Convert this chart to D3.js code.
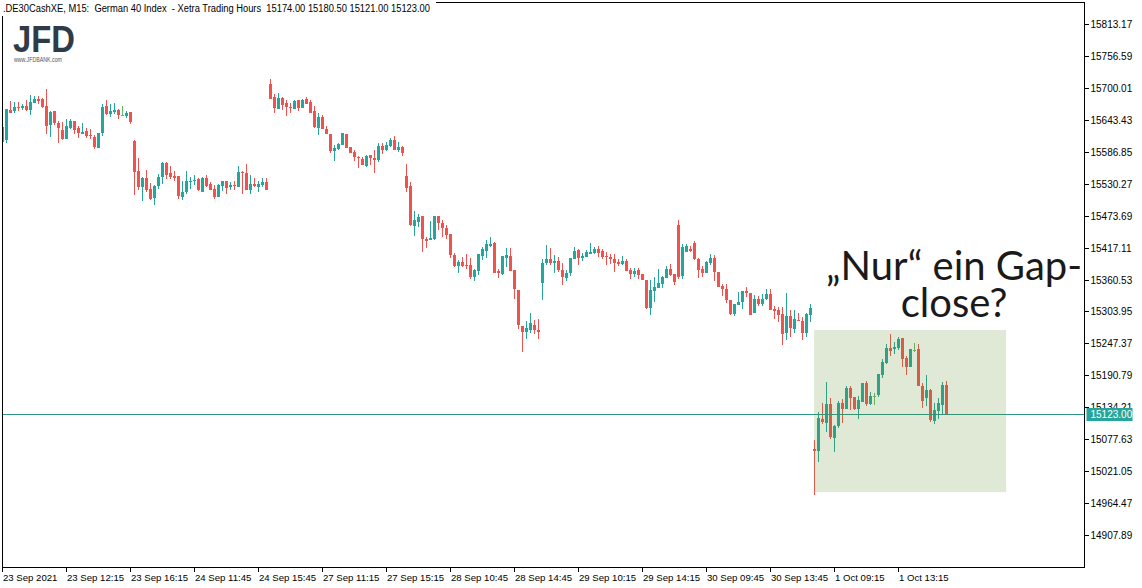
<!DOCTYPE html>
<html>
<head>
<meta charset="utf-8">
<script src="https://cdn.jsdelivr.net/npm/d3@7"></script>
<style>
html, body { margin: 0; padding: 0; background: #fff; }
svg { display: block; font-family: "Liberation Sans", Arial, sans-serif; }
</style>
</head>
<body>
<svg id="chart" width="1142" height="588"></svg>
<script>
// 15 minute bars, 23 Sep 2021 08:15 .. 1 Oct 2021 16:15
const openPrices = [
  15604.7, 15607.7, 15660.8, 15659.6, 15666.2, 15663.9, 15667.4, 15660.8, 15673.8, 15680.3,
  15680.3, 15667.9, 15634.8, 15659.1, 15637.7, 15624.9, 15609.5, 15629.5, 15641.3, 15629.0,
  15618.3, 15623.6, 15616.5, 15613.0, 15593.5, 15620.1, 15667.9, 15654.3, 15657.8, 15660.8,
  15652.0, 15650.7, 15656.8, 15606.4, 15552.8, 15525.0, 15540.4, 15520.9, 15504.9, 15526.2,
  15542.7, 15566.9, 15549.2, 15543.9, 15543.9, 15507.3, 15515.6, 15533.8, 15535.1, 15538.6,
  15515.6, 15540.4, 15529.7, 15520.9, 15506.7, 15526.2, 15535.1, 15525.0, 15528.5, 15525.0,
  15551.5, 15549.2, 15519.1, 15529.7, 15524.4, 15528.0, 15533.3, 15706.9, 15683.9, 15663.1,
  15682.1, 15673.2, 15666.7, 15663.1, 15678.6, 15664.9, 15680.3, 15675.0, 15659.1, 15629.5,
  15649.0, 15627.2, 15618.9, 15588.2, 15592.4, 15599.4, 15618.9, 15594.8, 15586.4, 15577.6,
  15574.0, 15561.6, 15580.6, 15575.8, 15572.3, 15597.1, 15590.0, 15597.1, 15607.7, 15590.6,
  15595.3, 15543.9, 15526.2, 15455.9, 15463.0, 15473.0, 15432.9, 15431.1, 15432.9, 15473.0,
  15461.2, 15452.3, 15441.1, 15403.9, 15384.4, 15391.5, 15386.8, 15386.2, 15364.4, 15376.2,
  15402.7, 15411.6, 15420.5, 15425.2, 15376.2, 15370.3, 15398.6, 15402.2, 15377.3, 15341.9,
  15278.1, 15267.5, 15271.7, 15280.5, 15271.1, 15354.9, 15389.8, 15396.8, 15389.8, 15393.3,
  15377.4, 15363.8, 15372.0, 15396.8, 15412.8, 15398.6, 15401.0, 15405.7, 15407.5, 15414.6,
  15411.0, 15402.2, 15400.4, 15396.8, 15391.5, 15388.0, 15393.3, 15377.4, 15370.3, 15377.4,
  15370.3, 15359.6, 15310.0, 15340.1, 15345.5, 15352.6, 15363.2, 15379.1, 15370.3, 15456.5,
  15366.8, 15410.0, 15414.6, 15425.2, 15396.9, 15379.2, 15372.1, 15389.8, 15398.7, 15373.9,
  15349.1, 15343.7, 15324.2, 15299.5, 15315.4, 15320.7, 15340.2, 15336.7, 15301.2, 15326.0,
  15317.2, 15326.0, 15334.9, 15308.3, 15306.5, 15299.5, 15265.8, 15295.9, 15272.9, 15288.8,
  15287.0, 15265.8, 15297.7, 15060.3, 15057.3, 15113.4, 15106.4, 15140.0, 15079.8, 15101.0,
  15141.8, 15131.2, 15168.4, 15152.4, 15131.2, 15143.6, 15177.2, 15140.0, 15155.1, 15156.0,
  15191.4, 15212.7, 15239.2, 15237.4, 15239.2, 15256.9, 15221.5, 15205.6, 15236.5, 15237.4,
  15171.9, 15150.6, 15164.8, 15109.9, 15127.6, 15138.2, 15174.0
];
const highPrices = [
  15631.9, 15663.1, 15676.8, 15674.5, 15674.5, 15670.9, 15678.6, 15687.4, 15685.1, 15685.1,
  15682.6, 15698.0, 15659.1, 15659.1, 15641.3, 15639.6, 15644.9, 15644.9, 15641.3, 15631.9,
  15637.7, 15629.0, 15627.2, 15616.5, 15620.1, 15672.0, 15678.6, 15671.5, 15673.2, 15662.6,
  15667.9, 15659.1, 15656.8, 15608.2, 15575.8, 15542.1, 15554.5, 15531.5, 15528.0, 15547.4,
  15568.7, 15568.7, 15561.6, 15552.8, 15543.9, 15535.1, 15552.8, 15542.1, 15545.7, 15540.4,
  15542.1, 15545.7, 15533.3, 15528.0, 15529.7, 15535.1, 15535.1, 15533.3, 15535.1, 15561.6,
  15552.8, 15565.2, 15545.7, 15540.4, 15535.1, 15540.4, 15540.4, 15716.3, 15689.2, 15690.9,
  15683.9, 15678.6, 15673.2, 15678.6, 15678.6, 15680.3, 15683.9, 15678.6, 15668.5, 15656.0,
  15652.5, 15633.0, 15618.9, 15598.8, 15602.9, 15620.1, 15618.9, 15594.8, 15590.6, 15579.9,
  15577.6, 15580.6, 15580.6, 15590.6, 15602.9, 15601.9, 15603.7, 15611.9, 15614.8, 15604.3,
  15597.1, 15565.2, 15533.2, 15481.9, 15476.6, 15473.0, 15435.2, 15464.2, 15473.0, 15473.0,
  15465.9, 15457.1, 15441.1, 15408.1, 15395.7, 15400.4, 15405.7, 15398.6, 15379.1, 15405.7,
  15418.1, 15430.5, 15435.8, 15427.0, 15379.1, 15402.2, 15416.3, 15416.3, 15377.3, 15341.9,
  15278.1, 15287.0, 15301.2, 15288.8, 15290.5, 15397.4, 15421.6, 15416.3, 15403.9, 15400.4,
  15389.8, 15377.4, 15398.6, 15417.5, 15414.6, 15407.5, 15412.8, 15425.2, 15418.7, 15419.9,
  15414.6, 15409.2, 15405.7, 15405.7, 15396.8, 15402.2, 15396.8, 15380.9, 15380.9, 15380.9,
  15370.3, 15359.6, 15359.6, 15365.0, 15379.1, 15366.7, 15384.4, 15388.0, 15370.3, 15465.9,
  15423.4, 15424.0, 15419.9, 15428.8, 15398.7, 15384.5, 15393.3, 15405.7, 15404.0, 15373.9,
  15352.6, 15352.6, 15324.2, 15317.2, 15338.4, 15340.2, 15347.3, 15336.7, 15333.1, 15331.3,
  15334.9, 15343.7, 15343.7, 15313.6, 15311.8, 15311.8, 15336.7, 15306.5, 15306.5, 15301.2,
  15294.1, 15301.2, 15317.2, 15076.2, 15125.8, 15141.8, 15179.0, 15150.6, 15102.8, 15145.3,
  15148.9, 15171.9, 15171.9, 15152.4, 15154.2, 15177.2, 15180.8, 15161.3, 15159.5, 15193.2,
  15219.7, 15246.3, 15264.0, 15249.8, 15258.7, 15256.9, 15225.0, 15237.4, 15248.1, 15246.3,
  15177.2, 15191.4, 15166.6, 15141.8, 15150.6, 15179.0, 15180.5
];
const lowPrices = [
  15602.9, 15602.9, 15656.0, 15656.0, 15659.6, 15661.4, 15659.6, 15652.5, 15672.7, 15672.0,
  15663.9, 15618.3, 15613.0, 15634.3, 15602.9, 15607.7, 15609.5, 15627.7, 15618.3, 15611.2,
  15618.3, 15610.7, 15608.9, 15591.7, 15593.5, 15615.3, 15652.5, 15647.9, 15653.7, 15645.5,
  15650.7, 15647.2, 15636.6, 15510.3, 15519.1, 15499.6, 15516.1, 15501.9, 15492.5, 15520.9,
  15529.7, 15538.6, 15538.1, 15535.1, 15503.2, 15501.9, 15512.0, 15520.9, 15528.0, 15516.8,
  15515.6, 15524.4, 15519.1, 15503.2, 15506.7, 15517.4, 15512.0, 15519.1, 15519.1, 15525.0,
  15512.0, 15519.1, 15512.0, 15525.0, 15515.6, 15524.4, 15519.1, 15680.9, 15656.0, 15663.1,
  15661.4, 15650.7, 15656.0, 15663.1, 15659.6, 15664.9, 15671.5, 15656.0, 15629.5, 15617.1,
  15626.6, 15618.9, 15585.2, 15571.0, 15590.6, 15599.4, 15593.0, 15585.2, 15571.0, 15558.6,
  15562.9, 15560.4, 15563.9, 15549.8, 15568.7, 15583.4, 15588.7, 15595.8, 15590.6, 15586.4,
  15579.9, 15515.5, 15455.3, 15438.2, 15454.1, 15409.8, 15416.9, 15431.1, 15431.1, 15448.2,
  15436.4, 15432.9, 15398.6, 15383.3, 15372.6, 15383.3, 15379.1, 15361.4, 15358.5, 15369.1,
  15395.7, 15399.2, 15418.7, 15372.6, 15363.8, 15369.1, 15383.3, 15376.2, 15326.6, 15273.4,
  15232.7, 15255.7, 15266.3, 15264.6, 15255.7, 15324.8, 15386.2, 15386.2, 15372.0, 15373.8,
  15351.4, 15358.5, 15367.3, 15396.8, 15386.2, 15393.3, 15401.0, 15405.7, 15405.7, 15400.4,
  15396.8, 15386.2, 15387.4, 15373.8, 15384.4, 15386.2, 15375.6, 15362.0, 15365.0, 15362.0,
  15359.6, 15308.3, 15297.6, 15320.7, 15345.5, 15345.5, 15363.2, 15366.7, 15350.8, 15361.5,
  15361.5, 15409.3, 15409.3, 15395.1, 15363.2, 15365.0, 15372.1, 15386.3, 15357.9, 15347.3,
  15331.3, 15318.9, 15297.7, 15295.9, 15315.4, 15308.3, 15329.6, 15297.7, 15301.2, 15313.6,
  15313.6, 15324.2, 15306.5, 15290.6, 15285.3, 15244.5, 15253.4, 15258.7, 15265.8, 15287.0,
  15253.4, 15258.7, 15285.3, 14979.3, 15037.8, 15104.6, 15090.4, 15078.0, 15055.0, 15097.5,
  15106.4, 15131.2, 15129.4, 15129.4, 15113.4, 15143.6, 15136.5, 15138.2, 15138.2, 15152.4,
  15186.1, 15210.9, 15225.0, 15228.6, 15235.7, 15205.6, 15191.4, 15205.6, 15232.1, 15171.9,
  15132.9, 15136.5, 15108.1, 15104.6, 15113.4, 15120.5, 15121.0
];
const closePrices = [
  15631.3, 15662.1, 15656.0, 15666.2, 15664.4, 15667.9, 15660.8, 15675.0, 15680.3, 15677.3,
  15666.7, 15633.0, 15657.8, 15638.3, 15629.5, 15609.5, 15632.5, 15641.3, 15625.4, 15620.6,
  15621.9, 15614.8, 15615.3, 15595.3, 15620.1, 15666.2, 15654.3, 15658.5, 15660.8, 15651.4,
  15652.0, 15655.5, 15640.1, 15551.5, 15525.0, 15540.4, 15519.1, 15503.2, 15526.2, 15542.1,
  15566.9, 15545.7, 15542.1, 15540.9, 15509.0, 15515.6, 15535.1, 15535.1, 15536.8, 15519.1,
  15540.9, 15526.2, 15519.7, 15506.7, 15528.0, 15535.1, 15522.7, 15528.0, 15527.4, 15551.0,
  15549.5, 15519.1, 15529.7, 15526.7, 15529.7, 15533.3, 15519.1, 15680.9, 15664.9, 15682.1,
  15670.2, 15666.7, 15665.6, 15676.8, 15664.9, 15678.6, 15672.0, 15656.0, 15631.3, 15649.0,
  15627.7, 15618.9, 15588.2, 15593.5, 15600.6, 15620.1, 15594.1, 15585.2, 15577.0, 15575.8,
  15563.9, 15578.8, 15575.8, 15572.3, 15597.1, 15590.0, 15598.8, 15607.7, 15590.6, 15595.3,
  15585.2, 15523.2, 15457.1, 15465.9, 15471.2, 15432.9, 15429.3, 15434.0, 15473.0, 15460.0,
  15452.3, 15439.9, 15404.5, 15384.4, 15391.5, 15384.4, 15384.4, 15364.9, 15377.3, 15405.7,
  15414.6, 15423.4, 15423.4, 15372.6, 15372.6, 15402.2, 15403.9, 15376.2, 15344.3, 15280.5,
  15267.5, 15274.6, 15283.5, 15271.7, 15268.1, 15389.8, 15396.8, 15389.8, 15393.3, 15377.4,
  15365.5, 15372.0, 15398.6, 15411.0, 15398.6, 15402.2, 15409.2, 15409.2, 15414.6, 15407.5,
  15400.4, 15400.4, 15397.4, 15389.8, 15388.0, 15393.3, 15375.6, 15370.3, 15375.6, 15368.5,
  15359.6, 15310.0, 15341.9, 15347.2, 15354.3, 15365.0, 15379.1, 15368.5, 15356.1, 15365.0,
  15418.1, 15420.0, 15411.0, 15396.9, 15377.4, 15372.1, 15391.6, 15398.7, 15373.9, 15347.3,
  15343.7, 15324.2, 15299.5, 15317.2, 15320.7, 15340.2, 15336.7, 15297.7, 15326.0, 15317.2,
  15326.0, 15334.9, 15306.5, 15304.8, 15297.7, 15264.0, 15295.9, 15274.7, 15290.6, 15287.0,
  15265.8, 15299.4, 15310.1, 15057.3, 15115.2, 15108.1, 15140.0, 15081.6, 15101.0, 15141.8,
  15131.2, 15168.4, 15150.6, 15131.2, 15147.1, 15177.2, 15140.0, 15154.2, 15155.1, 15193.2,
  15214.4, 15239.2, 15233.9, 15241.0, 15255.2, 15219.7, 15205.6, 15237.4, 15236.5, 15171.9,
  15145.3, 15164.8, 15111.7, 15129.4, 15141.8, 15173.7, 15123.0
];

// bar index of each time label on the x axis
const xTickBars = [0, 16, 32, 48, 64, 80, 96, 112, 128, 144, 160, 176, 192, 208, 224];
const xTickLabels = [
  "23 Sep 2021", "23 Sep 12:15", "23 Sep 16:15", "24 Sep 11:45", "24 Sep 15:45",
  "27 Sep 11:15", "27 Sep 15:15", "28 Sep 10:45", "28 Sep 14:45", "29 Sep 10:15",
  "29 Sep 14:15", "30 Sep 09:45", "30 Sep 13:45", "1 Oct 09:15", "1 Oct 13:15"
];
const yTickLabels = [
  "14907.89", "14964.47", "15021.05", "15077.63", "15134.21", "15190.79",
  "15247.37", "15303.95", "15360.53", "15417.11", "15473.69", "15530.27",
  "15586.85", "15643.43", "15700.01", "15756.59", "15813.17"
];
const lastPrice = 15123.00;
const headerText = ".DE30CashXE, M15:  German 40 Index  - Xetra Trading Hours  15174.00 15180.50 15121.00 15123.00";
const noteLines = ["\u201ENur\u201C ein Gap-", "close?"];
// shaded box: bars 202.9 .. 250.9, prices 15271 .. 14984
const boxBars = [202.9, 250.9];
const boxPrices = [15271, 14984];

const svg = d3.select("#chart");
const plotLeft = 2.5, plotRight = 1084.5, plotTop = 2.5, plotBottom = 567.5;

const x = d3.scaleLinear().domain([0, 236]).range([2.5, 946.5]);
const y = d3.scaleLinear().domain([14851.3, 15855.7]).range([567, 0]);

const bars = openPrices.map((o, i) => ({
  i: i, o: o, h: highPrices[i], l: lowPrices[i], c: closePrices[i]
}));

function barColor(d) {
  if (d.c > d.o) return "#26a69a";
  if (d.c < d.o) return "#ef5350";
  return "#66bb6a";
}

svg.append("rect").attr("width", 1142).attr("height", 588).attr("fill", "#fff");

svg.append("clipPath").attr("id", "plot-clip")
  .append("rect")
  .attr("x", plotLeft + 0.5).attr("y", plotTop + 0.5)
  .attr("width", plotRight - plotLeft - 1).attr("height", plotBottom - plotTop - 1);

const plot = svg.append("g").attr("clip-path", "url(#plot-clip)");

// candles
const candles = plot.append("g").attr("shape-rendering", "crispEdges");
candles.selectAll("line")
  .data(bars)
  .join("line")
  .attr("x1", (d) => x(d.i))
  .attr("x2", (d) => x(d.i))
  .attr("y1", (d) => y(d.h))
  .attr("y2", (d) => y(d.l))
  .attr("stroke", barColor)
  .attr("stroke-width", 1);

candles.selectAll("rect")
  .data(bars)
  .join("rect")
  .attr("x", (d) => x(d.i) - 1.5)
  .attr("width", 3)
  .attr("y", (d) => y(Math.max(d.o, d.c)))
  .attr("height", (d) => Math.max(1, Math.abs(y(d.o) - y(d.c))))
  .attr("fill", barColor);

// price line of the last close
const lastY = Math.round(y(lastPrice)) + 0.5;
plot.append("line")
  .attr("x1", plotLeft).attr("x2", plotRight)
  .attr("y1", lastY).attr("y2", lastY)
  .attr("stroke", "#2f9487")
  .attr("stroke-width", 1)
  .attr("shape-rendering", "crispEdges");

// shaded gap box
plot.append("rect")
  .attr("x", x(boxBars[0]))
  .attr("y", y(boxPrices[0]))
  .attr("width", x(boxBars[1]) - x(boxBars[0]))
  .attr("height", y(boxPrices[1]) - y(boxPrices[0]))
  .attr("fill", "rgb(95, 145, 50)")
  .attr("fill-opacity", 0.2);

// frame
svg.append("rect")
  .attr("x", plotLeft).attr("y", plotTop)
  .attr("width", plotRight - plotLeft).attr("height", plotBottom - plotTop)
  .attr("fill", "none")
  .attr("stroke", "#000")
  .attr("shape-rendering", "crispEdges");

// right price axis
const yAxis = svg.append("g");
yTickLabels.forEach((t) => {
  const ty = Math.round(y(+t)) + 0.5;
  yAxis.append("line")
    .attr("x1", plotRight).attr("x2", plotRight + 4)
    .attr("y1", ty).attr("y2", ty)
    .attr("stroke", "#000")
    .attr("shape-rendering", "crispEdges");
  yAxis.append("text")
    .attr("x", plotRight + 6).attr("y", ty)
    .attr("dy", "0.35em")
    .attr("font-size", 10)
    .attr("fill", "#000")
    .text(t);
});

// last price tag
svg.append("rect")
  .attr("x", plotRight + 2).attr("y", lastY - 6.5)
  .attr("width", 46).attr("height", 13)
  .attr("fill", "#26a69a");
svg.append("text")
  .attr("x", plotRight + 6).attr("y", lastY)
  .attr("dy", "0.35em")
  .attr("font-size", 10)
  .attr("fill", "#fff")
  .text(d3.format(".2f")(lastPrice));

// bottom time axis
const xAxis = svg.append("g");
xTickBars.forEach((b, j) => {
  const tx = x(b);
  xAxis.append("line")
    .attr("x1", tx).attr("x2", tx)
    .attr("y1", plotBottom).attr("y2", plotBottom + 4)
    .attr("stroke", "#000")
    .attr("shape-rendering", "crispEdges");
  xAxis.append("text")
    .attr("x", tx + 0.5).attr("y", 581)
    .attr("font-size", 9.6)
    .attr("fill", "#000")
    .text(xTickLabels[j]);
});

// header line
svg.append("rect").attr("x", 0).attr("y", 0).attr("width", 436).attr("height", 16).attr("fill", "#fff");
svg.append("text")
  .attr("x", 3).attr("y", 12)
  .attr("font-size", 10)
  .attr("fill", "#000")
  .attr("textLength", 427)
  .attr("lengthAdjust", "spacingAndGlyphs")
  .style("white-space", "pre")
  .text(headerText);

// logo
svg.append("text")
  .attr("x", 13).attr("y", 52)
  .attr("font-size", 36)
  .attr("font-weight", "bold")
  .attr("fill", "#2f3b46")
  .attr("textLength", 62)
  .attr("lengthAdjust", "spacingAndGlyphs")
  .text("JFD");
svg.append("text")
  .attr("x", 14).attr("y", 62)
  .attr("font-size", 6.5)
  .attr("fill", "#555")
  .attr("textLength", 48)
  .attr("lengthAdjust", "spacingAndGlyphs")
  .text("www.JFDBANK.com");

// annotation
svg.append("g")
  .selectAll("text")
  .data(noteLines)
  .join("text")
  .attr("x", 954)
  .attr("y", (d, i) => 280 + i * 37)
  .attr("text-anchor", "middle")
  .attr("font-family", "Lato, 'Open Sans', sans-serif")
  .attr("font-size", 40)
  .attr("fill", "#1a1a1a")
  .text((d) => d);
</script>
</body>
</html>
